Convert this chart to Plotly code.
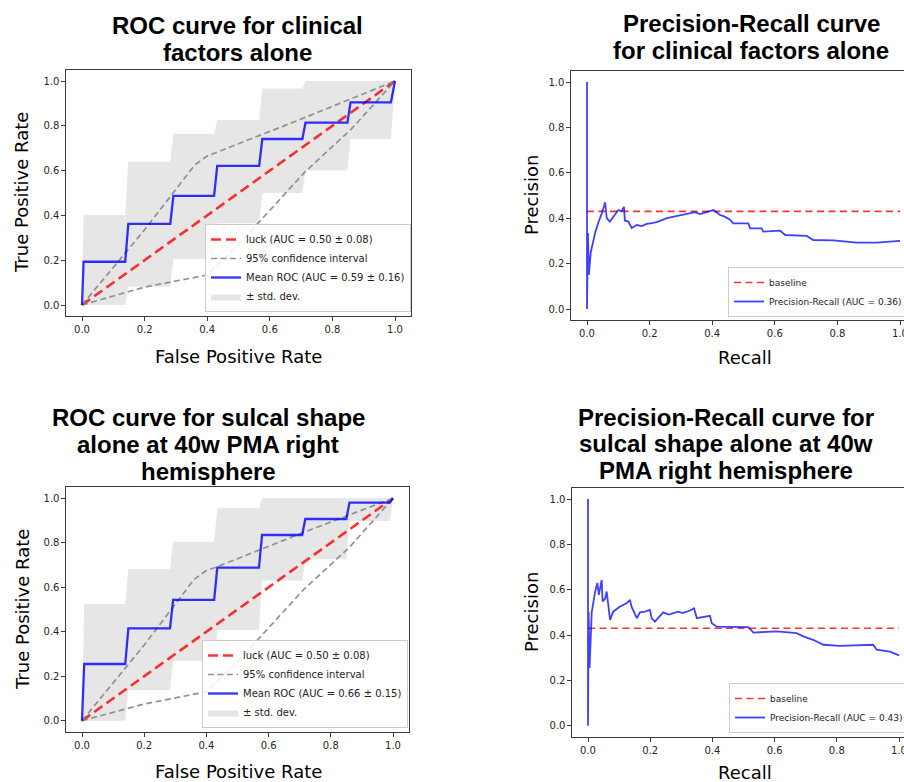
import plotly.graph_objects as go

W, H = 904, 782

# ---------------- data ----------------
# ROC: clinical factors alone
roc1_fpr = [0.0, 0.005, 0.138, 0.148, 0.282, 0.292, 0.422, 0.432, 0.566, 0.576, 0.704, 0.714, 0.848, 0.858, 0.987, 1.0]
roc1_mean = [0.0, 0.193, 0.193, 0.362, 0.362, 0.487, 0.487, 0.621, 0.621, 0.741, 0.741, 0.814, 0.814, 0.905, 0.905, 1.0]
roc1_upper = [0.0, 0.402, 0.402, 0.640, 0.640, 0.763, 0.763, 0.826, 0.826, 0.967, 0.967, 1.0, 1.0, 1.0, 1.0, 1.0]
roc1_lower = [0.0, 0.0, 0.0, 0.082, 0.082, 0.205, 0.205, 0.365, 0.365, 0.500, 0.500, 0.600, 0.600, 0.741, 0.741, 1.0]
roc1_ci_up_x = [0.0, 0.2, 0.36, 0.40, 0.44, 0.7, 1.0]
roc1_ci_up_y = [0.0, 0.336, 0.625, 0.665, 0.687, 0.83, 1.0]
roc1_ci_lo_x = [0.0, 0.20, 0.40, 0.50, 0.713, 0.86, 1.0]
roc1_ci_lo_y = [0.0, 0.08, 0.134, 0.27, 0.595, 0.785, 1.0]
roc1_label = "Mean ROC (AUC = 0.59 ± 0.16)"

# ROC: sulcal shape alone at 40w PMA right hemisphere
roc2_fpr = [0.0, 0.007, 0.139, 0.149, 0.283, 0.293, 0.425, 0.435, 0.569, 0.579, 0.708, 0.718, 0.850, 0.860, 0.990, 1.0]
roc2_mean = [0.0, 0.255, 0.255, 0.415, 0.415, 0.543, 0.543, 0.688, 0.688, 0.835, 0.835, 0.907, 0.907, 0.981, 0.981, 1.0]
roc2_upper = [0.0, 0.525, 0.525, 0.682, 0.682, 0.805, 0.805, 0.955, 0.955, 1.0, 1.0, 1.0, 1.0, 1.0, 1.0, 1.0]
roc2_lower = [0.0, 0.0, 0.0, 0.138, 0.138, 0.270, 0.270, 0.408, 0.408, 0.630, 0.630, 0.726, 0.726, 0.898, 0.898, 1.0]
roc2_ci_up_x = [0.0, 0.2, 0.36, 0.40, 0.44, 0.7, 1.0]
roc2_ci_up_y = [0.0, 0.34, 0.635, 0.675, 0.695, 0.84, 1.0]
roc2_ci_lo_x = [0.0, 0.20, 0.40, 0.50, 0.713, 0.86, 1.0]
roc2_ci_lo_y = [0.0, 0.075, 0.13, 0.265, 0.59, 0.78, 1.0]
roc2_label = "Mean ROC (AUC = 0.66 ± 0.15)"

luck_x = [0.0, 1.0]
luck_y = [0.0, 1.0]
luck_label = "luck (AUC = 0.50 ± 0.08)"

# Precision-Recall: clinical factors alone
pr1_recall = [0.0, 0.0, 0.003, 0.006, 0.012, 0.020, 0.026, 0.036, 0.047, 0.058, 0.063, 0.073, 0.084, 0.100,
              0.110, 0.118, 0.121, 0.132, 0.143, 0.159, 0.175, 0.191, 0.207, 0.223, 0.255, 0.287, 0.319,
              0.345, 0.361, 0.380, 0.404, 0.425, 0.440, 0.456, 0.467, 0.515, 0.521, 0.558, 0.563, 0.617,
              0.633, 0.702, 0.723, 0.787, 0.840, 0.862, 0.926, 0.960, 1.0]
pr1_precision = [1.0, 0.0, 0.335, 0.15, 0.25, 0.30, 0.335, 0.38, 0.42, 0.47, 0.40, 0.385, 0.405, 0.436,
                 0.43, 0.45, 0.39, 0.385, 0.357, 0.37, 0.365, 0.375, 0.378, 0.383, 0.40, 0.41, 0.42,
                 0.427, 0.418, 0.425, 0.436, 0.414, 0.407, 0.395, 0.377, 0.377, 0.355, 0.355, 0.341, 0.345,
                 0.326, 0.322, 0.304, 0.302, 0.297, 0.292, 0.292, 0.296, 0.300]
pr1_label = "Precision-Recall (AUC = 0.36)"

# Precision-Recall: sulcal shape alone at 40w PMA right hemisphere
pr2_recall = [0.0, 0.0, 0.002, 0.005, 0.012, 0.022, 0.030, 0.035, 0.044, 0.047, 0.055, 0.060, 0.065,
              0.071, 0.081, 0.103, 0.124, 0.135, 0.140, 0.157, 0.167, 0.183, 0.199, 0.205, 0.215, 0.242,
              0.260, 0.290, 0.305, 0.328, 0.341, 0.350, 0.392, 0.398, 0.414, 0.515, 0.532, 0.607, 0.671,
              0.692, 0.724, 0.757, 0.810, 0.917, 0.928, 0.971, 1.0]
pr2_precision = [1.0, 0.0, 0.503, 0.255, 0.50, 0.585, 0.63, 0.577, 0.643, 0.548, 0.56, 0.592, 0.526,
                 0.467, 0.503, 0.526, 0.54, 0.555, 0.525, 0.474, 0.50, 0.503, 0.511, 0.474, 0.459, 0.50,
                 0.49, 0.503, 0.497, 0.508, 0.518, 0.474, 0.485, 0.452, 0.437, 0.435, 0.411, 0.416, 0.408,
                 0.394, 0.379, 0.357, 0.352, 0.357, 0.335, 0.327, 0.31]
pr2_label = "Precision-Recall (AUC = 0.43)"

baseline_x = [0.0, 1.0]
baseline_y = [0.43, 0.43]

tick_vals = [0.0, 0.2, 0.4, 0.6, 0.8, 1.0]
tick_text = ["0.0", "0.2", "0.4", "0.6", "0.8", "1.0"]

titles = {
    "tl": ["ROC curve for clinical", "factors alone"],
    "tr": ["Precision-Recall curve", "for clinical factors alone"],
    "bl": ["ROC curve for sulcal shape", "alone at 40w PMA right", "hemisphere"],
    "br": ["Precision-Recall curve for", "sulcal shape alone at 40w", "PMA right hemisphere"],
}

# ---------------- styling ----------------
BLUE = "rgba(0,0,255,0.8)"
RED = "rgba(255,0,0,0.8)"
GREY = "rgba(128,128,128,0.85)"
FILL = "rgba(128,128,128,0.2)"
TICKFONT = dict(family="DejaVu Sans", size=10, color="#262626")
AXLINE = "#3a3a3a"

fig = go.Figure()


def roc_panel(n, fpr, mean, upper, lower, cux, cuy, clx, cly, label, legend):
    xa, ya = "x" + ("" if n == 1 else str(n)), "y" + ("" if n == 1 else str(n))
    fig.add_trace(go.Scatter(x=fpr, y=lower, mode="lines", line=dict(width=0, color=FILL),
                             showlegend=False, hoverinfo="skip", xaxis=xa, yaxis=ya))
    fig.add_trace(go.Scatter(x=fpr, y=upper, mode="lines", line=dict(width=0, color=FILL),
                             fill="tonexty", fillcolor=FILL, name="± std. dev.", legendrank=4,
                             legend=legend, xaxis=xa, yaxis=ya))
    fig.add_trace(go.Scatter(x=luck_x, y=luck_y, mode="lines", name=luck_label, legendrank=1,
                             line=dict(color=RED, width=2.6, dash="10px,5px"), legend=legend,
                             xaxis=xa, yaxis=ya))
    fig.add_trace(go.Scatter(x=cux, y=cuy, mode="lines", name="95% confidence interval", legendrank=2,
                             line=dict(color=GREY, width=1.7, dash="6px,3.5px"), legend=legend,
                             xaxis=xa, yaxis=ya))
    fig.add_trace(go.Scatter(x=clx, y=cly, mode="lines", showlegend=False,
                             line=dict(color=GREY, width=1.7, dash="6px,3.5px"),
                             xaxis=xa, yaxis=ya))
    fig.add_trace(go.Scatter(x=fpr, y=mean, mode="lines", name=label, legendrank=3,
                             line=dict(color=BLUE, width=2.3), legend=legend, xaxis=xa, yaxis=ya))


def pr_panel(n, rec, prec, label, legend):
    xa, ya = "x" + str(n), "y" + str(n)
    fig.add_trace(go.Scatter(x=baseline_x, y=baseline_y, mode="lines", name="baseline",
                             line=dict(color=RED, width=1.6, dash="7px,4.5px"), legend=legend,
                             xaxis=xa, yaxis=ya))
    fig.add_trace(go.Scatter(x=rec, y=prec, mode="lines", name=label,
                             line=dict(color="rgba(0,0,255,0.75)", width=1.8), legend=legend,
                             xaxis=xa, yaxis=ya))


roc_panel(1, roc1_fpr, roc1_mean, roc1_upper, roc1_lower, roc1_ci_up_x, roc1_ci_up_y,
          roc1_ci_lo_x, roc1_ci_lo_y, roc1_label, "legend")
pr_panel(2, pr1_recall, pr1_precision, pr1_label, "legend2")
roc_panel(3, roc2_fpr, roc2_mean, roc2_upper, roc2_lower, roc2_ci_up_x, roc2_ci_up_y,
          roc2_ci_lo_x, roc2_ci_lo_y, roc2_label, "legend3")
pr_panel(4, pr2_recall, pr2_precision, pr2_label, "legend4")


def px_dom_x(a, b):
    return [max(0.0, a / W), min(1.0, b / W)]


def px_dom_y(top, bottom):
    return [1 - bottom / H, 1 - top / H]


def axis(domain, rng, mirror=True):
    return dict(domain=domain, range=rng, tickvals=tick_vals, ticktext=tick_text,
                showgrid=False, zeroline=False, showline=True, linecolor=AXLINE, linewidth=1,
                mirror=mirror, ticks="outside", ticklen=4, tickwidth=1, tickcolor=AXLINE,
                tickfont=TICKFONT, automargin=False, ticklabeloverflow="allow")


# panel geometry (pixels)
panels = {
    # name: (x0px at 0, px per unit x, y0px at 0, px per unit y, xmax)
    1: (82.0, 313.0, 305.0, 224.0, 1.05),
    2: (587.0, 313.0, 309.0, 227.0, (904 - 587.0) / 313.0),
    3: (82.0, 311.0, 720.7, 222.4, 1.05),
    4: (588.0, 311.0, 725.7, 226.7, (904 - 588.0) / 311.0),
}
lay = {}
for n, (x0, sx, y0, sy, xmax) in panels.items():
    left = x0 - 0.05 * sx
    right = x0 + xmax * sx
    top = y0 - 1.05 * sy
    bottom = y0 + 0.05 * sy
    sfx = "" if n == 1 else str(n)
    right_cut = n in (2, 4)
    lay["xaxis" + sfx] = axis(px_dom_x(left, right), [-0.05, xmax], mirror=True)
    lay["xaxis" + sfx]["anchor"] = "y" + sfx
    lay["yaxis" + sfx] = axis(px_dom_y(top, bottom), [-0.05, 1.05], mirror=not right_cut)
    lay["yaxis" + sfx]["anchor"] = "x" + sfx

legend_common = dict(bgcolor="rgba(255,255,255,0.85)", bordercolor="#cccccc", borderwidth=1,
                     xanchor="left", yanchor="bottom", traceorder="normal")
lay["legend"] = dict(x=205 / W, y=1 - 312 / H, font=dict(family="DejaVu Sans", size=10, color="#222"),
                     **legend_common)
lay["legend2"] = dict(x=728 / W, y=1 - 317 / H, font=dict(family="DejaVu Sans", size=9, color="#222"),
                      **legend_common)
lay["legend3"] = dict(x=202 / W, y=1 - 728 / H, font=dict(family="DejaVu Sans", size=10, color="#222"),
                      **legend_common)
lay["legend4"] = dict(x=729 / W, y=1 - 733 / H, font=dict(family="DejaVu Sans", size=9, color="#222"),
                      **legend_common)

ann = []


def txt(text, xpx, ypx, size, family, weight="normal", angle=0):
    ann.append(dict(text=text, x=xpx / W, y=1 - ypx / H, xref="paper", yref="paper",
                    xanchor="center", yanchor="middle", showarrow=False, textangle=angle,
                    font=dict(family=family, size=size, color="#000", weight=weight)))


TF = "Liberation Sans"
for i, line in enumerate(titles["tl"]):
    txt(line, 237, 25 + 27 * i, 24, TF, "bold")
for i, line in enumerate(titles["tr"]):
    txt(line, 751, 24 + 27 * i, 24, TF, "bold")
for i, line in enumerate(titles["bl"]):
    txt(line, 208, 417 + 27 * i, 24, TF, "bold")
for i, line in enumerate(titles["br"]):
    txt(line, 726, 417 + 26.5 * i, 24, TF, "bold")

AF = "DejaVu Sans"
txt("False Positive Rate", 238, 356, 18, AF)
txt("True Positive Rate", 22, 193, 18, AF, angle=-90)
txt("Recall", 745, 357, 18, AF)
txt("Precision", 531, 195, 18, AF, angle=-90)
txt("False Positive Rate", 238, 771, 18, AF)
txt("True Positive Rate", 22, 610, 18, AF, angle=-90)
txt("Recall", 745, 772, 18, AF)
txt("Precision", 531, 612, 18, AF, angle=-90)

fig.update_layout(width=W, height=H, margin=dict(l=0, r=0, t=0, b=0, autoexpand=False),
                  paper_bgcolor="white", plot_bgcolor="white", annotations=ann,
                  showlegend=True, **lay)

fig.write_html("out.html", config={"displayModeBar": False},
               post_script="document.body.style.margin='0px';document.body.style.padding='0px';"
                           "document.body.style.overflow='hidden';")
